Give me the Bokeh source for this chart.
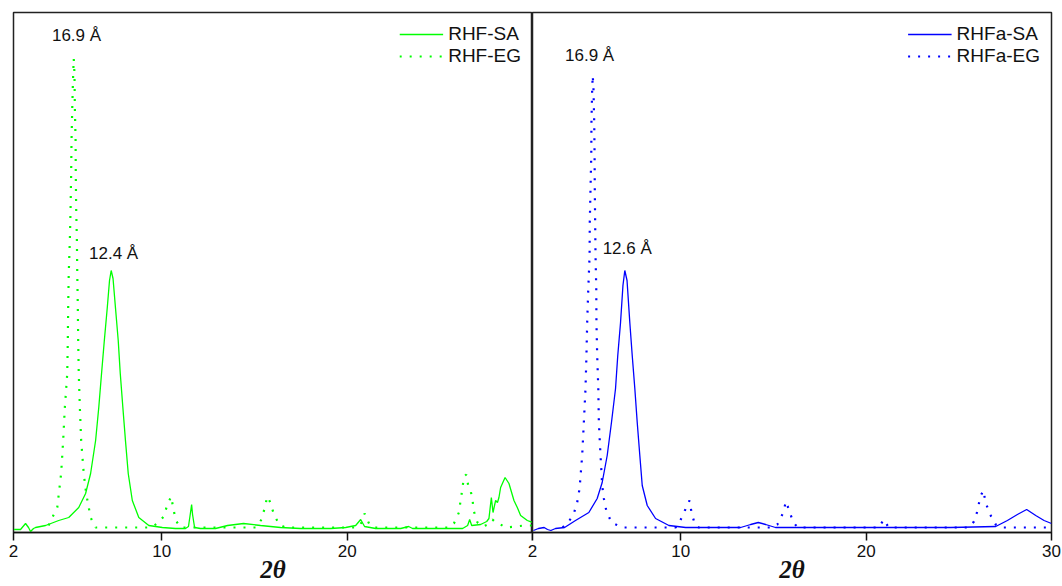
from bokeh.plotting import figure
from bokeh.layouts import row
from bokeh.models import Range1d, FixedTicker
from bokeh.core.properties import value
from bokeh.embed import file_html
from bokeh.resources import INLINE

# ---------------- data (2theta in degrees, intensity in a.u.) ----------------
rhf_sa_2theta = [2.03, 2.38, 2.65, 2.81, 2.92, 3.08, 3.19, 3.73, 4.44, 4.98, 5.52, 5.89, 6.16, 6.43,
                 6.60, 6.75, 6.90, 7.06, 7.18, 7.27, 7.37, 7.50, 7.65, 7.76, 7.90, 8.04, 8.19, 8.41,
                 8.76, 9.30, 10.03, 10.74, 11.28, 11.44, 11.55, 11.61, 11.66, 11.77, 12.09, 12.90,
                 13.55, 14.41, 15.33, 16.41, 17.49, 19.11, 19.92, 20.46, 20.73, 20.94, 21.54, 22.89,
                 23.32, 23.53, 25.05, 26.23, 26.50, 26.61, 26.72, 27.20, 27.53, 27.65, 27.78, 27.87,
                 28.01, 28.11, 28.19, 28.28, 28.52, 28.73, 29.00, 29.18, 29.36, 29.72, 30.0]
rhf_sa_int = [3, 3, 9, 5, 1, 4, 5, 7, 12, 15, 25, 39, 59, 92,
              125, 159, 192, 225, 252, 262, 254, 225, 192, 159, 125, 92, 59, 32,
              15, 7, 5, 4, 4, 6, 20, 28, 18, 5, 4, 4,
              7, 9, 7, 5, 4, 4, 5, 7, 13, 6, 4, 4,
              6, 4, 4, 4, 7, 13, 7, 8, 11, 14, 35, 20,
              32, 30, 35, 45, 55, 49, 32, 25, 17, 12, 10]

rhf_eg_2theta = [3.89, 3.96, 4.36, 4.57, 4.68, 4.77, 4.90, 4.93, 4.95, 4.98, 5.04, 5.08, 5.11, 5.13,
                 5.17, 5.22, 5.25, 5.29, 5.31, 5.35, 5.36, 5.38, 5.42, 5.44, 5.47, 5.49, 5.52, 5.58,
                 5.65, 5.79, 5.92, 6.16, 6.43, 8.31, 9.39, 9.76, 10.11, 10.30, 10.51, 10.62, 10.76,
                 11.01, 15.06, 15.38, 15.56, 15.69, 15.83, 16.02, 16.32, 16.68, 20.46, 20.73, 20.94,
                 21.18, 21.38, 25.48, 25.76, 26.03, 26.12, 26.22, 26.30, 26.43, 26.54, 26.66, 26.76,
                 26.84, 27.03, 27.31, 27.58, 27.84, 28.01, 28.18, 28.55, 29.09, 29.54, 29.96]
rhf_eg_int = [7, 10, 25, 59, 92, 125, 159, 192, 225, 259, 292, 325, 359, 392,
              425, 459, 474, 459, 425, 392, 359, 325, 292, 259, 225, 192, 159, 125,
              92, 59, 39, 15, 5, 5, 5, 9, 16, 28, 36, 24, 12,
              5, 5, 13, 25, 36, 31, 20, 8, 5, 5, 8, 19,
              9, 5, 5, 9, 20, 32, 44, 56, 58, 46, 42, 33,
              21, 10, 6, 8, 13, 10, 9, 5, 6, 7, 7]

rhfa_sa_2theta = [2.05, 2.32, 2.63, 2.81, 2.99, 3.24, 3.73, 4.32, 5.04, 5.49, 5.76, 6.03, 6.26, 6.48,
                  6.60, 6.75, 6.88, 6.98, 7.10, 7.25, 7.38, 7.52, 7.65, 7.79, 7.92, 8.19, 8.64, 9.36,
                  10.26, 13.23, 13.77, 14.18, 14.58, 15.11, 19.16, 24.56, 26.99, 27.62, 28.16, 28.66,
                  29.15, 29.60, 30.0]
rhfa_sa_int = [2, 4, 5, 3, 2, 4, 5, 12, 20, 34, 50, 77, 110, 144,
               177, 210, 247, 262, 252, 210, 177, 144, 110, 77, 47, 27, 14, 7,
               5, 5, 8, 10, 8, 5, 5, 5, 6, 12, 18, 23,
               17, 12, 9]

rhfa_eg_2theta = [3.62, 3.93, 4.23, 4.41, 4.54, 4.68, 4.77, 4.86, 4.91, 4.95, 5.01, 5.08, 5.09, 5.13,
                  5.17, 5.18, 5.22, 5.25, 5.29, 5.33, 5.35, 5.36, 5.38, 5.40, 5.44, 5.45, 5.49, 5.55,
                  5.58, 5.67, 5.76, 5.85, 5.98, 6.26, 6.84, 9.72, 9.95, 10.22, 10.47, 10.58, 10.76,
                  10.96, 14.95, 15.21, 15.53, 15.67, 15.83, 16.05, 16.30, 20.67, 20.96, 21.21, 25.53,
                  25.82, 26.03, 26.14, 26.32, 26.45, 26.66, 26.99, 27.26, 29.96]
rhfa_eg_int = [5, 10, 19, 30, 44, 77, 110, 144, 177, 210, 244, 277, 310, 344,
               377, 410, 444, 457, 444, 410, 377, 344, 310, 277, 244, 210, 177, 144,
               110, 77, 47, 34, 22, 10, 5, 5, 11, 22, 32, 20, 8,
               5, 5, 8, 20, 31, 23, 11, 5, 5, 13, 5, 5,
               11, 23, 35, 42, 30, 19, 8, 5, 5]

tick_values = [2, 10, 20, 30]

left_labels_x = [5.40, 7.40]
left_labels_y = [497, 279]
left_labels_text = ["16.9 Å", "12.4 Å"]
right_labels_x = [5.08, 7.11]
right_labels_y = [477, 284]
right_labels_text = ["16.9 Å", "12.6 Å"]

GREEN = "#00ff00"
BLUE = "#0000ff"
FONT = "Liberation Sans"


def make_panel(width, border_left, border_right, sa_x, sa_y, eg_x, eg_y, color,
               sa_name, eg_name, lab_x, lab_y, lab_t):
    p = figure(width=width, height=586, output_backend="svg", toolbar_location=None,
               x_range=Range1d(2, 30), y_range=Range1d(0, 520), y_axis_location=None,
               min_border_left=border_left, min_border_right=border_right,
               min_border_top=12, min_border_bottom=54)
    p.xgrid.visible = False
    p.ygrid.visible = False
    p.background_fill_color = "white"
    p.border_fill_color = None
    p.outline_line_color = "#222222"
    p.outline_line_width = 1.5

    p.line(sa_x, sa_y, line_color=color, line_width=1.3, legend_label=sa_name)
    p.line(eg_x, eg_y, line_color=color, line_width=2.2, line_dash="2 8",
           legend_label=eg_name)
    p.text(x=lab_x, y=lab_y, text=lab_t, text_font=value(FONT), text_font_size="17px",
           text_align="center", text_baseline="middle", text_color="#111111")

    ax = p.xaxis[0]
    ax.ticker = FixedTicker(ticks=tick_values)
    ax.minor_tick_line_color = None
    ax.major_tick_out = 8
    ax.major_tick_in = 0
    ax.major_tick_line_color = "#111111"
    ax.major_tick_line_width = 1.5
    ax.axis_line_color = "#111111"
    ax.axis_line_width = 1.5
    ax.major_label_text_font = FONT
    ax.major_label_text_font_size = "17px"
    ax.major_label_text_color = "#111111"
    ax.major_label_standoff = 4
    ax.axis_label = "2θ"
    ax.axis_label_text_font = "Liberation Serif"
    ax.axis_label_text_font_style = "bold italic"
    ax.axis_label_text_font_size = "25px"
    ax.axis_label_text_color = "#111111"
    ax.axis_label_standoff = -4

    lg = p.legend[0]
    lg.location = "top_right"
    lg.margin = 4
    lg.padding = 7
    lg.spacing = 0
    lg.glyph_width = 44
    lg.glyph_height = 18
    lg.label_height = 18
    lg.label_standoff = 5
    lg.label_text_font = FONT
    lg.label_text_font_size = "19px"
    lg.label_text_color = "#111111"
    lg.border_line_alpha = 0
    lg.background_fill_alpha = 0
    return p


p1 = make_panel(532, 13, 0, rhf_sa_2theta, rhf_sa_int, rhf_eg_2theta, rhf_eg_int, GREEN,
                "RHF-SA", "RHF-EG", left_labels_x, left_labels_y, left_labels_text)
p1.xaxis[0].major_label_overrides = {30: ""}

p2 = make_panel(538, 8, 11, rhfa_sa_2theta, rhfa_sa_int, rhfa_eg_2theta, rhfa_eg_int, BLUE,
                "RHFa-SA", "RHFa-EG", right_labels_x, right_labels_y, right_labels_text)
p2.margin = (0, 0, 0, -8)

layout = row(p1, p2)
open("out.html", "w").write(file_html(layout, INLINE))
